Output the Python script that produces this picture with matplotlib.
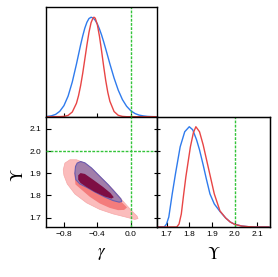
import matplotlib
matplotlib.use('Agg')
import matplotlib.pyplot as plt

plt.rcParams.update({
    'font.family':      ['Liberation Sans', 'DejaVu Sans'],
    'mathtext.fontset': 'stix',
    'xtick.labelsize':  6,
    'ytick.labelsize':  6,
})

# ── 1D marginal of gamma ──
gam_blue   = [-1.00, -0.95, -0.90, -0.85, -0.80, -0.75, -0.70, -0.65, -0.625, -0.60,
              -0.575, -0.55, -0.525, -0.50, -0.475, -0.45, -0.425, -0.40, -0.375, -0.35,
              -0.325, -0.30, -0.275, -0.25, -0.20, -0.15, -0.10, -0.05, 0.00, 0.05,
              0.10, 0.15, 0.20, 0.25, 0.30]
pdf_g_blue = [0.003, 0.009, 0.023, 0.054, 0.111, 0.207, 0.349, 0.529, 0.626, 0.723,
              0.812, 0.890, 0.949, 0.987, 1.000, 0.992, 0.969, 0.932, 0.882, 0.823,
              0.755, 0.682, 0.607, 0.531, 0.389, 0.267, 0.172, 0.105, 0.060, 0.032,
              0.016, 0.008, 0.003, 0.001, 0.000]

gam_red    = [-1.00, -0.85, -0.80, -0.75, -0.70, -0.65, -0.625, -0.60, -0.575, -0.55,
              -0.525, -0.50, -0.475, -0.45, -0.44, -0.425, -0.40, -0.375, -0.35, -0.325,
              -0.30, -0.275, -0.25, -0.20, -0.15, -0.10, -0.05, 0.30]
pdf_g_red  = [0.000, 0.001, 0.003, 0.013, 0.047, 0.135, 0.212, 0.313, 0.437, 0.578,
              0.720, 0.849, 0.946, 0.995, 1.000, 0.990, 0.925, 0.810, 0.665, 0.510,
              0.365, 0.245, 0.155, 0.052, 0.014, 0.003, 0.000, 0.000]

# ── 1D marginal of Upsilon ──
ups_blue   = [1.650, 1.690, 1.700, 1.710, 1.725, 1.740, 1.760, 1.780, 1.800, 1.815,
              1.832, 1.845, 1.861, 1.875, 1.891, 1.910, 1.935, 1.960, 1.980, 2.000,
              2.030, 2.060, 2.090, 2.150]
pdf_u_blue = [0.000, 0.000, 0.030, 0.100, 0.330, 0.540, 0.800, 0.950, 1.000, 0.970,
              0.870, 0.770, 0.620, 0.480, 0.330, 0.230, 0.155, 0.090, 0.050, 0.027,
              0.010, 0.003, 0.000, 0.000]

ups_red    = [1.650, 1.745, 1.755, 1.765, 1.775, 1.785, 1.805, 1.818, 1.829, 1.845,
              1.861, 1.875, 1.891, 1.910, 1.935, 1.960, 1.980, 2.000, 2.030, 2.060,
              2.090, 2.150]
pdf_u_red  = [0.000, 0.000, 0.030, 0.130, 0.320, 0.500, 0.800, 0.940, 1.000, 0.950,
              0.820, 0.680, 0.520, 0.330, 0.160, 0.090, 0.050, 0.026, 0.010, 0.003,
              0.000, 0.000]

# ── 2D contours (gamma, Upsilon) ──
red95_g = [-0.808, -0.788, -0.728, -0.649, -0.549, -0.450, -0.330, -0.211, -0.092, 0.008,
           0.075, 0.087, 0.048, -0.052, -0.211, -0.370, -0.529, -0.669, -0.760, -0.800]
red95_u = [1.916, 1.946, 1.961, 1.961, 1.946, 1.916, 1.871, 1.826, 1.774, 1.732,
           1.707, 1.696, 1.692, 1.702, 1.717, 1.737, 1.767, 1.807, 1.852, 1.891]

red68_g = [-0.675, -0.629, -0.569, -0.470, -0.330, -0.191, -0.092, -0.045, -0.080, -0.151,
           -0.251, -0.370, -0.490, -0.589, -0.662]
red68_u = [1.901, 1.913, 1.909, 1.882, 1.841, 1.797, 1.764, 1.746, 1.735, 1.734,
           1.744, 1.764, 1.794, 1.826, 1.850]

blue95_g = [-0.661, -0.641, -0.601, -0.549, -0.470, -0.370, -0.271, -0.171, -0.119, -0.107,
            -0.139, -0.211, -0.310, -0.430, -0.529, -0.609, -0.657, -0.669]
blue95_u = [1.931, 1.946, 1.953, 1.947, 1.924, 1.886, 1.849, 1.807, 1.785, 1.773,
            1.770, 1.777, 1.793, 1.816, 1.837, 1.852, 1.871, 1.901]

blue68_g = [-0.629, -0.601, -0.549, -0.450, -0.330, -0.243, -0.203, -0.231, -0.310, -0.430,
            -0.529, -0.601, -0.629]
blue68_u = [1.891, 1.901, 1.897, 1.871, 1.838, 1.811, 1.792, 1.786, 1.795, 1.816,
            1.838, 1.856, 1.871]

gam_true = 0.0
ups_true = 2.0
gam_ticks = [-0.8, -0.4, 0.0]
ups_ticks = [1.7, 1.8, 1.9, 2.0, 2.1]
gam_lim = (-1.018, 0.314)
ups_lim = (1.658, 2.155)

c_blue  = '#2f7bed'
c_red   = '#e84545'
c_green = '#33c43a'
dash    = (0, (2.0, 1.0))

fig = plt.figure(figsize=(2.78, 2.77), dpi=100)
ax_g  = fig.add_axes([0.1644, 0.5787, 0.4004, 0.395])
ax_2d = fig.add_axes([0.1644, 0.1805, 0.4004, 0.3982])
ax_u  = fig.add_axes([0.5647, 0.1805, 0.4065, 0.3982])

for ax in (ax_g, ax_2d, ax_u):
    for s in ax.spines.values():
        s.set_linewidth(1.0)

# top: gamma marginal
ax_g.plot(gam_blue, pdf_g_blue, color=c_blue, lw=1.0)
ax_g.plot(gam_red, pdf_g_red, color=c_red, lw=1.0)
ax_g.axvline(gam_true, color=c_green, lw=1.0, ls=dash)
ax_g.set_xlim(*gam_lim)
ax_g.set_ylim(0, 1.1)
ax_g.set_xticks(gam_ticks)
ax_g.set_xticklabels([])
ax_g.set_yticks([])
ax_g.tick_params(axis='x', direction='inout', length=6, width=0.8)

# bottom-left: 2D contours
ax_2d.fill(red95_g, red95_u, color='#fbbcbc', ec='#f6a8a8', lw=0.5, zorder=2)
ax_2d.fill(red68_g, red68_u, color='#f47c7c', lw=0, zorder=3)
ax_2d.fill(blue95_g, blue95_u, color='#a27eaa', ec='#6a5cb0', lw=0.8, zorder=4)
ax_2d.fill(blue68_g, blue68_u, color='#7e0e44', lw=0, zorder=5)
ax_2d.axvline(gam_true, color=c_green, lw=1.0, ls=dash, zorder=6)
ax_2d.axhline(ups_true, color=c_green, lw=1.0, ls=dash, zorder=6)
ax_2d.set_xlim(*gam_lim)
ax_2d.set_ylim(*ups_lim)
ax_2d.set_xticks(gam_ticks)
ax_2d.set_xticklabels(['\u22120.8', '\u22120.4', '0.0'])
ax_2d.set_yticks(ups_ticks)
ax_2d.tick_params(direction='in', length=3.5, width=0.8, pad=3)
ax_2d.set_xlabel(r'$\gamma$', fontsize=12)
ax_2d.set_ylabel(r'$\Upsilon$', fontsize=12)
ax_2d.xaxis.set_label_coords(0.5, -0.17)
ax_2d.yaxis.set_label_coords(-0.18, 0.47)

# bottom-right: Upsilon marginal
ax_u.plot(ups_blue, pdf_u_blue, color=c_blue, lw=1.0)
ax_u.plot(ups_red, pdf_u_red, color=c_red, lw=1.0)
ax_u.axvline(ups_true, color=c_green, lw=1.0, ls=dash)
ax_u.set_xlim(*ups_lim)
ax_u.set_ylim(0, 1.1)
ax_u.set_xticks(ups_ticks)
ax_u.tick_params(axis='x', direction='in', length=3.5, width=0.8, pad=3)
ax_u.set_xlabel(r'$\Upsilon$', fontsize=12)
ax_u.xaxis.set_label_coords(0.5, -0.17)
# y ticks on the shared edge, matching Upsilon positions of the 2D panel
ax_u2 = ax_u.twinx()
ax_u2.yaxis.tick_left()
ax_u2.set_ylim(*ups_lim)
ax_u2.set_yticks(ups_ticks)
ax_u2.set_yticklabels([])
ax_u2.tick_params(axis='y', direction='inout', length=4, width=0.8)
ax_u.set_yticks([])

fig.savefig('out.png', dpi=100, facecolor='white')
